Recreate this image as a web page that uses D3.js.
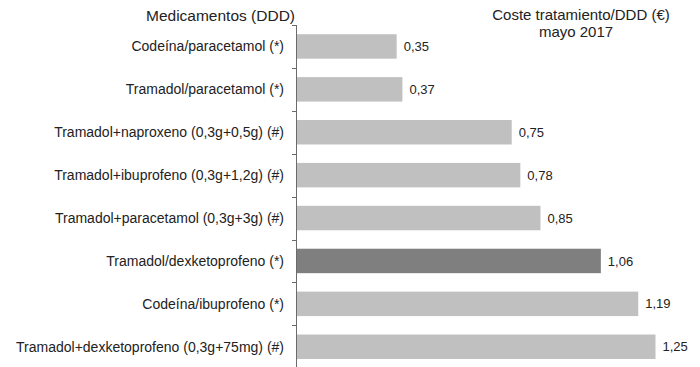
<!DOCTYPE html>
<html>
<head>
<meta charset="utf-8">
<script src="https://cdn.jsdelivr.net/npm/d3@7/dist/d3.min.js"></script>
<style>
  html, body { margin: 0; padding: 0; background: #fff; }
  svg { display: block; font-family: "Liberation Sans", Arial, sans-serif; }
</style>
</head>
<body>
<svg id="chart" width="700" height="367"></svg>
<script>
// Medicines (DDD) and treatment cost per DDD, May 2017
const categories = [
  "Codeína/paracetamol (*)",
  "Tramadol/paracetamol (*)",
  "Tramadol+naproxeno (0,3g+0,5g) (#)",
  "Tramadol+ibuprofeno (0,3g+1,2g) (#)",
  "Tramadol+paracetamol (0,3g+3g) (#)",
  "Tramadol/dexketoprofeno (*)",
  "Codeína/ibuprofeno (*)",
  "Tramadol+dexketoprofeno (0,3g+75mg) (#)"
];
const costs = [0.35, 0.37, 0.75, 0.78, 0.85, 1.06, 1.19, 1.25];
const highlighted = [false, false, false, false, false, true, false, false];
const leftTitle = "Medicamentos (DDD)";
const rightTitle = ["Coste tratamiento/DDD (€)", "mayo 2017"];

const svg = d3.select("#chart");
const axisX = 296;

const x = d3.scaleLinear().domain([0, 1.25]).range([axisX, 655.5]);
const y = d3.scaleBand().domain(categories).range([25, 368.2]).padding(0);
const barFrac = 0.57;
const barH = y.bandwidth() * barFrac;
const fmt = v => d3.format(".2f")(v).replace(".", ",");

// bars
svg.append("g").selectAll("rect")
  .data(categories)
  .join("rect")
  .attr("x", axisX + 1)
  .attr("y", d => y(d) + (y.bandwidth() - barH) / 2)
  .attr("width", (d, i) => x(costs[i]) - axisX - 1)
  .attr("height", barH)
  .attr("fill", (d, i) => highlighted[i] ? "#7f7f7f" : "#c0c0c0");

// vertical axis with ticks at category boundaries
const axis = svg.append("g");
axis.append("line")
  .attr("x1", axisX + 0.5).attr("x2", axisX + 0.5)
  .attr("y1", y.range()[0]).attr("y2", 367)
  .attr("stroke", "#6b6b6b").attr("stroke-width", 1);
const bounds = categories.map(c => y(c)).concat([y.range()[1]]);
axis.selectAll("line.tick")
  .data(bounds)
  .join("line")
  .attr("class", "tick")
  .attr("x1", axisX - 4).attr("x2", axisX + 0.5)
  .attr("y1", d => Math.round(d) + 0.5).attr("y2", d => Math.round(d) + 0.5)
  .attr("stroke", "#6b6b6b").attr("stroke-width", 1);

// category labels
svg.append("g").selectAll("text")
  .data(categories)
  .join("text")
  .attr("x", 284)
  .attr("y", d => y(d) + y.bandwidth() / 2)
  .attr("dy", "0.35em")
  .attr("text-anchor", "end")
  .attr("font-size", 14)
  .attr("fill", "#222")
  .text(d => d);

// value labels
svg.append("g").selectAll("text")
  .data(categories)
  .join("text")
  .attr("x", (d, i) => x(costs[i]) + 7)
  .attr("y", d => y(d) + y.bandwidth() / 2)
  .attr("dy", "0.35em")
  .attr("font-size", 13)
  .attr("fill", "#222")
  .text((d, i) => fmt(costs[i]));

// titles
svg.append("text")
  .attr("x", 295).attr("y", 20.5)
  .attr("text-anchor", "end")
  .attr("font-size", 15.5)
  .attr("fill", "#222")
  .text(leftTitle);

svg.append("g")
  .attr("font-size", 15)
  .attr("fill", "#222")
  .attr("text-anchor", "middle")
  .selectAll("text")
  .data(rightTitle)
  .join("text")
  .attr("x", (d, i) => i === 0 ? 581 : 576)
  .attr("y", (d, i) => 19.5 + i * 17)
  .text(d => d);
</script>
</body>
</html>
